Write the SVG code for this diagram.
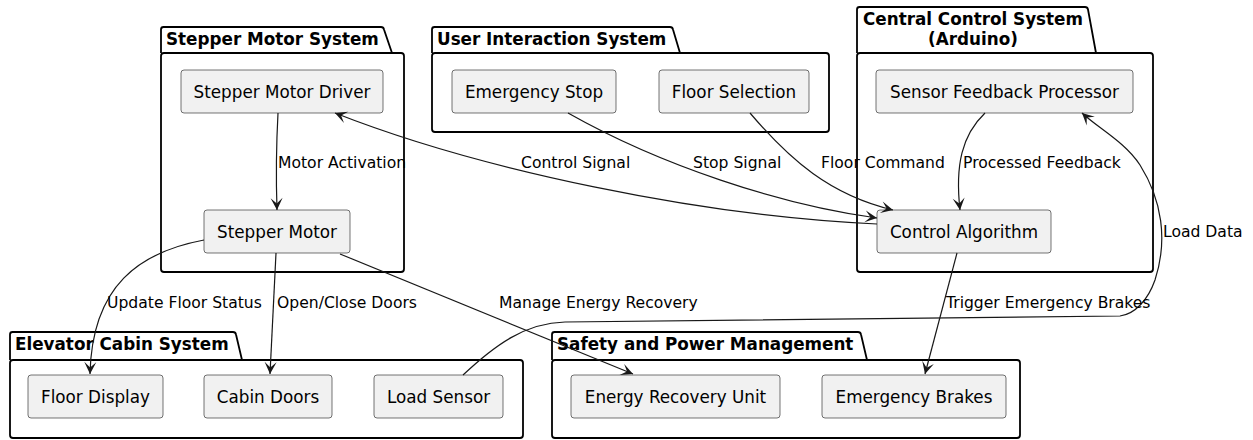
<svg xmlns="http://www.w3.org/2000/svg" width="1253" height="440" viewBox="0 0 1253 440">
<style>
.pkg{fill:none;stroke:#000;stroke-width:1.8}
.pt{font-family:"DejaVu Sans",sans-serif;font-size:16.8px;font-weight:bold;fill:#000}
.node{fill:#F1F1F1;stroke:#181818;stroke-width:0.6}
.nt{font-family:"DejaVu Sans",sans-serif;font-size:16.8px;fill:#000;text-anchor:middle}
.edge{fill:none;stroke:#181818;stroke-width:1.2}
.lbl{font-family:"DejaVu Sans",sans-serif;font-size:15.6px;fill:#000}
</style>
<defs>
<marker id="ah" viewBox="-14 -7 15 14" refX="0" refY="0" markerWidth="15" markerHeight="14" markerUnits="userSpaceOnUse" orient="auto">
<path d="M0,0 L-12,-6 L-6.5,0 L-12,6 Z" fill="#181818"/>
</marker>
</defs>
<rect width="1253" height="440" fill="#fff"/>

<g id="pkg-stepper">
<rect class="pkg" x="161" y="53" width="243" height="219" rx="3"/>
<path class="pkg" d="M161,53 L161,29.5 Q161,27 163.5,27 L381,27 Q383.5,27 384,29.5 L392,53"/>
<text class="pt" x="166" y="45">Stepper Motor System</text>
</g>
<g id="pkg-user">
<rect class="pkg" x="432" y="53" width="397" height="79" rx="3"/>
<path class="pkg" d="M432,53 L432,29.5 Q432,27 434.5,27 L670,27 Q672.5,27 673,29.5 L680,53"/>
<text class="pt" x="437" y="45">User Interaction System</text>
</g>
<g id="pkg-central">
<rect class="pkg" x="857" y="53" width="296" height="219" rx="3"/>
<path class="pkg" d="M857,53 L857,9.5 Q857,7 859.5,7 L1085,7 Q1087.5,7 1088,9.5 L1096,53"/>
<text class="pt" x="973" y="25" text-anchor="middle">Central Control System</text>
<text class="pt" x="973" y="45" text-anchor="middle">(Arduino)</text>
</g>
<g id="pkg-elevator">
<rect class="pkg" x="10" y="360" width="513" height="78" rx="3"/>
<path class="pkg" d="M10,360 L10,334.5 Q10,332 12.5,332 L233,332 Q235.5,332 236,334.5 L242,360"/>
<text class="pt" x="15" y="350">Elevator Cabin System</text>
</g>
<g id="pkg-safety">
<rect class="pkg" x="552" y="360" width="468" height="78" rx="3"/>
<path class="pkg" d="M552,360 L552,334.5 Q552,332 554.5,332 L858,332 Q860.5,332 861,334.5 L867,360"/>
<text class="pt" x="557" y="350">Safety and Power Management</text>
</g>

<g id="n-driver"><rect class="node" x="181" y="70" width="202" height="43" rx="3"/><text class="nt" x="282" y="97.5">Stepper Motor Driver</text></g>
<g id="n-motor"><rect class="node" x="204" y="210" width="146" height="43" rx="3"/><text class="nt" x="277" y="237.5">Stepper Motor</text></g>
<g id="n-estop"><rect class="node" x="452" y="70" width="164" height="43" rx="3"/><text class="nt" x="534" y="97.5">Emergency Stop</text></g>
<g id="n-floorsel"><rect class="node" x="659" y="70" width="150" height="43" rx="3"/><text class="nt" x="734" y="97.5">Floor Selection</text></g>
<g id="n-sfp"><rect class="node" x="876" y="70" width="257" height="43" rx="3"/><text class="nt" x="1004.5" y="97.5">Sensor Feedback Processor</text></g>
<g id="n-ctrl"><rect class="node" x="877" y="210" width="174" height="43" rx="3"/><text class="nt" x="964" y="237.5">Control Algorithm</text></g>
<g id="n-floordisp"><rect class="node" x="28" y="375" width="135" height="43" rx="3"/><text class="nt" x="95.5" y="402.5">Floor Display</text></g>
<g id="n-doors"><rect class="node" x="204" y="375" width="128" height="43" rx="3"/><text class="nt" x="268" y="402.5">Cabin Doors</text></g>
<g id="n-load"><rect class="node" x="374" y="375" width="129" height="43" rx="3"/><text class="nt" x="438.5" y="402.5">Load Sensor</text></g>
<g id="n-eru"><rect class="node" x="571" y="375" width="209" height="43" rx="3"/><text class="nt" x="675.5" y="402.5">Energy Recovery Unit</text></g>
<g id="n-brakes"><rect class="node" x="822" y="375" width="184" height="43" rx="3"/><text class="nt" x="914" y="402.5">Emergency Brakes</text></g>

<g id="connectors">
<path class="edge" marker-end="url(#ah)" d="M278,113 C276,150 276,180 277,210"/>
<text class="lbl" x="278" y="168">Motor Activation</text>
<path class="edge" marker-end="url(#ah)" d="M877,224 C700,216 480,170 335,113"/>
<text class="lbl" x="521" y="168">Control Signal</text>
<path class="edge" marker-end="url(#ah)" d="M568,113 C660,165 780,205 877,218"/>
<text class="lbl" x="693" y="168">Stop Signal</text>
<path class="edge" marker-end="url(#ah)" d="M750,113 C790,160 830,195 893,210"/>
<text class="lbl" x="821" y="168">Floor Command</text>
<path class="edge" marker-end="url(#ah)" d="M985,113 C962,135 955,165 960,210"/>
<text class="lbl" x="963" y="168">Processed Feedback</text>
<path class="edge" marker-end="url(#ah)" d="M463,375 C495,345 525,323 565,322 L1120,316 C1135,314 1148,300 1155,280 C1168,240 1162,200 1140,165 C1125,142 1098,128 1082,113"/>
<text class="lbl" x="1163" y="237">Load Data</text>
<path class="edge" marker-end="url(#ah)" d="M957,253 L925,374"/>
<text class="lbl" x="946" y="308">Trigger Emergency Brakes</text>
<path class="edge" marker-end="url(#ah)" d="M204,240 C140,252 92,285 90,374"/>
<text class="lbl" x="107" y="308">Update Floor Status</text>
<path class="edge" marker-end="url(#ah)" d="M276,253 L270,374"/>
<text class="lbl" x="277" y="308">Open/Close Doors</text>
<path class="edge" marker-end="url(#ah)" d="M340,254 L633,374"/>
<text class="lbl" x="499" y="308">Manage Energy Recovery</text>
</g>
</svg>
